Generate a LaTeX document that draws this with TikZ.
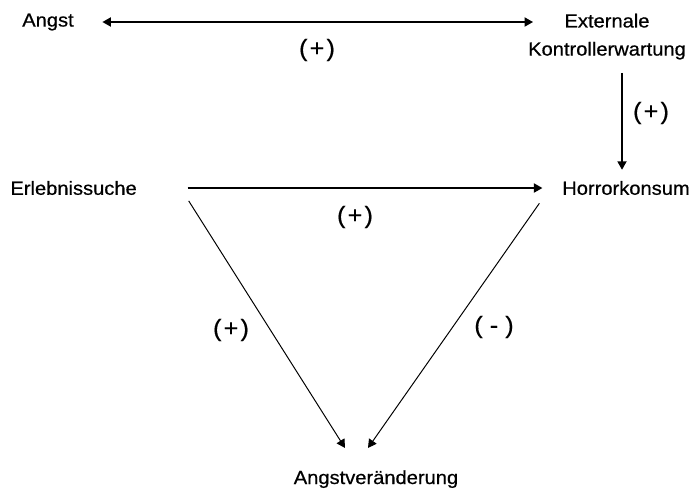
\documentclass[tikz,border=0pt]{standalone}
\usepackage{fontspec}
\setmainfont{Liberation Sans}[FakeStretch=1.06,FakeBold=0.6]
\usetikzlibrary{arrows.meta}

\begin{document}
\begin{tikzpicture}[
        >={Triangle[length=6pt,width=6.5pt]},
        var/.style={font=\fontsize{13.5}{20}\selectfont, align=center, inner sep=4pt},
        sign/.style={font=\fontsize{17}{19}\selectfont},
        rel/.style={->, line width=1pt},
        diag/.style={->, line width=0.7pt},
    ]
        \useasboundingbox (0,0) rectangle (17.3,-12.225);

        % Variables
        \node[var] (angst) at (1.2,-0.55) {Angst};
        \node[var] (ext) at (15.175,-0.915) {Externale\\Kontrollerwartung};
        \node[var] (erleb) at (1.84,-4.7) {Erlebnissuche};
        \node[var] (horror) at (15.65,-4.7) {Horrorkonsum};
        \node[var, anchor=base] (angstv) at (9.4,-12.1) {Angstveränderung};

        % Effects
        \draw[rel, <->] ([xshift=0.57cm]angst.east) -- ([xshift=-1.85cm]angst.east -| ext.north);
        \draw[rel, shorten <=0.185cm, shorten >=0.135cm] ([xshift=0.375cm]ext.south) -- ([xshift=0.375cm]ext.south |- horror.north);
        \draw[rel, shorten <=1.125cm, shorten >=0.35cm] (erleb.east) -- (horror.west);
        \draw[diag] ([xshift=1.15cm]erleb.south east) -- ([shift={(-0.775cm,0.41cm)}]angstv.north);
        \draw[diag] ([shift={(-0.425cm,-0.06cm)}]horror.south west) -- ([shift={(-0.2cm,0.41cm)}]angstv.north);

        % Signs
        \node[sign] (s1) at (7.925,-1.25) {(\kern1.5pt+\kern1.5pt)};
        \node[sign] (s2) at (16.275,-2.825) {(\kern1.5pt+\kern1.5pt)};
        \node[sign] (s3) at (8.875,-5.425) {(\kern1.5pt+\kern1.5pt)};
        \node[sign] (s4) at (5.775,-8.25) {(\kern1.5pt+\kern1.5pt)};
        \node[sign] (s5) at (12.35,-8.175) {( - )};
    \end{tikzpicture}
\end{document}
